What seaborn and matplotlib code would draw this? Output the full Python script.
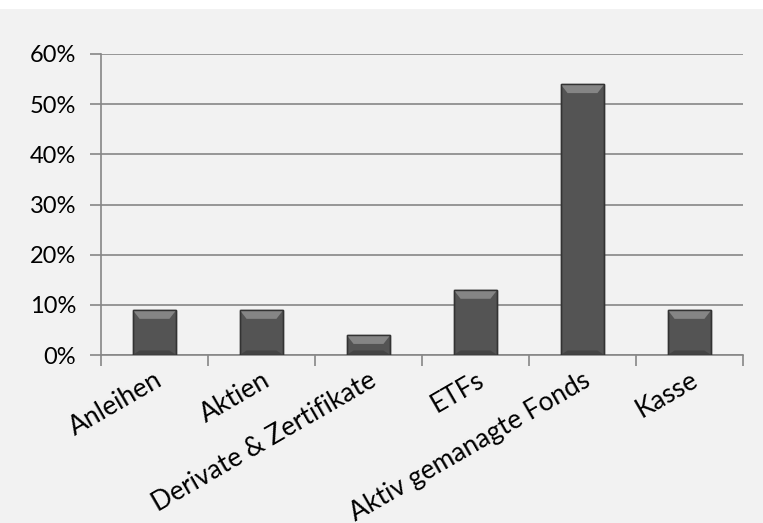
import matplotlib
matplotlib.use("Agg")
import matplotlib.pyplot as plt
import seaborn as sns
import pandas as pd
import numpy as np
from matplotlib.patches import Rectangle, Polygon
from matplotlib.ticker import PercentFormatter, FixedLocator

categories = ["Anleihen", "Aktien", "Derivate & Zertifikate", "ETFs",
              "Aktiv gemanagte Fonds", "Kasse"]
values = [9, 9, 4, 13, 54, 9]
yticks = [0, 10, 20, 30, 40, 50, 60]

sns.set_theme(style="white")
plt.rcParams['font.family'] = ['Lato', 'DejaVu Sans']

df = pd.DataFrame({"cat": categories, "val": values})

W, H = 763, 523
fig = plt.figure(figsize=(W / 100, H / 100), dpi=100, facecolor="white")
fig.patches.append(Rectangle((0, 0), 1, (H - 9) / H, transform=fig.transFigure,
                             facecolor="#f2f2f2", edgecolor="none", zorder=-10))
ax = fig.add_axes([101 / W, (H - 355) / H, 642 / W, 301 / H])
ax.set_facecolor("#f2f2f2")

sns.barplot(data=df, x="cat", y="val", ax=ax, color="#545454", width=0.41,
            edgecolor="#3a3a3a", linewidth=1.0, saturation=1, zorder=3)

# bevel highlights derived from bar geometry
for p in ax.patches:
    x0, y0 = p.get_x(), p.get_y()
    w, h = p.get_width(), p.get_height()
    bx = w * 0.16
    by = 9 * 60 / 301
    top = y0 + h
    ax.add_patch(Polygon([(x0, top), (x0 + w, top), (x0 + w - bx, top - by), (x0 + bx, top - by)],
                         closed=True, facecolor="#858585", edgecolor="none", zorder=4))
    ax.add_patch(Polygon([(x0, y0), (x0 + w, y0), (x0 + w - bx, y0 + by * 0.5), (x0 + bx, y0 + by * 0.5)],
                         closed=True, facecolor="#444444", edgecolor="none", zorder=4))
    ax.add_patch(Rectangle((x0, y0), w, h, facecolor="none", edgecolor="#333333",
                           linewidth=1.0, zorder=5))

ax.set_ylim(0, 60)
ax.set_xlim(-0.5, len(categories) - 0.5)
ax.set_yticks(yticks)
ax.yaxis.set_major_formatter(PercentFormatter(decimals=0))
ax.grid(axis="y", color="#868686", linewidth=1.2, zorder=0)
ax.set_axisbelow(True)

for s in ["top", "right"]:
    ax.spines[s].set_visible(False)
for s in ["left", "bottom"]:
    ax.spines[s].set_color("#868686")
    ax.spines[s].set_linewidth(1.2)

ax.tick_params(axis="y", which="major", left=True, length=8, width=1.2, color="#868686",
               labelsize=17, labelcolor="black", pad=10)
ax.xaxis.set_minor_locator(FixedLocator(np.arange(-0.5, len(categories), 1.0)))
ax.tick_params(axis="x", which="minor", bottom=True, length=8, width=1.2, color="#868686")
ax.tick_params(axis="x", which="major", bottom=False, labelsize=19, labelcolor="black", pad=3)
ax.set_xlabel("")
ax.set_ylabel("")
for lbl in ax.get_xticklabels():
    lbl.set_rotation(30)
    lbl.set_ha("right")
    lbl.set_rotation_mode("anchor")

fig.savefig("out.png", dpi=100, facecolor=fig.get_facecolor())
